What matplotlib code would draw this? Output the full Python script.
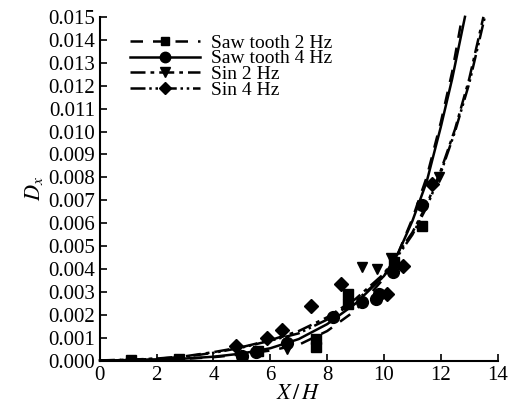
import matplotlib
matplotlib.use("Agg")
import matplotlib.pyplot as plt
from matplotlib.lines import Line2D

plt.rcParams['font.family'] = ['Liberation Serif', 'DejaVu Serif']
plt.rcParams['mathtext.fontset'] = 'stix'

# fitted curves, values
saw2_x = [0, 1, 2, 3, 4, 5, 6, 7, 8, 9, 10, 10.5, 11, 11.5, 12, 12.4, 12.75]
saw2_y = [0.00002, 0.00003, 0.00005, 0.00009, 0.00016, 0.00028, 0.00045, 0.0007, 0.0013,
          0.0022, 0.0036, 0.0047, 0.0062, 0.0080, 0.0104, 0.0126, 0.0150]
saw4_x = [0, 1, 2, 3, 4, 5, 6, 7, 8, 9, 10, 10.5, 11, 11.5, 12, 12.4, 12.85]
saw4_y = [0.00002, 0.00003, 0.00006, 0.0001, 0.00018, 0.00032, 0.00055, 0.00095, 0.0016,
          0.0025, 0.0037, 0.0047, 0.0061, 0.0078, 0.0102, 0.0123, 0.0150]
sin2_x = [0, 1, 2, 3, 4, 5, 6, 7, 8, 9, 10, 11, 11.5, 12, 12.5, 13, 13.5]
sin2_y = [0.00002, 0.00005, 0.0001, 0.0002, 0.00038, 0.0006, 0.0009, 0.0013, 0.0019,
          0.0027, 0.0038, 0.0056, 0.0068, 0.0083, 0.0101, 0.0123, 0.0150]
sin4_x = [0, 1, 2, 3, 4, 5, 6, 7, 8, 9, 10, 11, 11.5, 12, 12.5, 13, 13.55]
sin4_y = [0.00002, 0.00004, 0.00009, 0.00018, 0.00035, 0.00058, 0.00088, 0.0012, 0.0018,
          0.0026, 0.0037, 0.0055, 0.0067, 0.0082, 0.0100, 0.0121, 0.0150]

# measured points
saw2_px = [1.1, 2.8, 5.0, 5.55, 7.6, 7.6, 8.72, 8.72, 10.35, 11.35]
saw2_py = [0.00005, 0.0001, 0.00017, 0.00045, 0.0006, 0.00095, 0.0025, 0.0029, 0.0043, 0.0059]
saw4_px = [5.0, 5.5, 6.6, 8.2, 9.24, 9.72, 9.84, 10.3, 11.35]
saw4_py = [0.0002, 0.0004, 0.00078, 0.0019, 0.00255, 0.0027, 0.0029, 0.00386, 0.0068]
sin2_px = [6.6, 9.24, 9.77, 10.24, 11.93]
sin2_py = [0.0005, 0.0041, 0.004, 0.0045, 0.008]
sin4_px = [4.8, 5.89, 6.41, 7.43, 8.48, 10.12, 10.67, 11.7]
sin4_py = [0.00066, 0.001, 0.00134, 0.0024, 0.00335, 0.0029, 0.00415, 0.0077]

labels = ['Saw tooth 2 Hz', 'Saw tooth 4 Hz', 'Sin 2 Hz', 'Sin 4 Hz']
styles = [(0, (5, 4)), '-', (0, (6, 2, 1.5, 2)), (0, (6, 1.5, 1, 1.5, 1, 1.5))]
markers = ['s', 'o', 'v', 'D']
msizes = [7, 8.5, 7.5, 7]

fig = plt.figure(figsize=(5.2, 4.11), dpi=100)
ax = fig.add_axes([0.192, 0.122, 0.765, 0.837])

curves = [(saw2_x, saw2_y), (saw4_x, saw4_y), (sin2_x, sin2_y), (sin4_x, sin4_y)]
points = [(saw2_px, saw2_py), (saw4_px, saw4_py), (sin2_px, sin2_py), (sin4_px, sin4_py)]

handles = []
for (cx, cy), (px, py), ls, mk, ms, lab in zip(curves, points, styles, markers, msizes, labels):
    ax.plot(cx, cy, color='black', linestyle=ls, linewidth=1.8, clip_on=False)
    ax.plot(px, py, linestyle='none', marker=mk, markersize=ms, color='black')
    handles.append(Line2D([], [], color='black', linestyle=ls, linewidth=1.8,
                          marker=mk, markersize=ms - 1, label=lab))

ax.set_xlim(0, 14)
ax.set_ylim(0, 0.015)
ax.set_xticks(range(0, 15, 2))
ax.set_yticks([i / 1000 for i in range(16)])
ax.set_yticklabels([f'{i / 1000:.3f}' for i in range(16)])

for s in ['top', 'right']:
    ax.spines[s].set_visible(False)
for s in ['left', 'bottom']:
    ax.spines[s].set_linewidth(1.5)
ax.tick_params(direction='in', length=5, width=1.2, labelsize=15)

ax.set_xlabel('$X\\,/\\,H$', fontsize=16, labelpad=0)
ax.set_ylabel('$D_x$', fontsize=16, labelpad=2)

ax.legend(handles=handles, loc='upper left', bbox_to_anchor=(0.075, 0.95), frameon=False,
          fontsize=14, handlelength=3.6, handletextpad=0.6, labelspacing=-0.1,
          borderaxespad=0, borderpad=0)

fig.savefig('out.png', dpi=100)
